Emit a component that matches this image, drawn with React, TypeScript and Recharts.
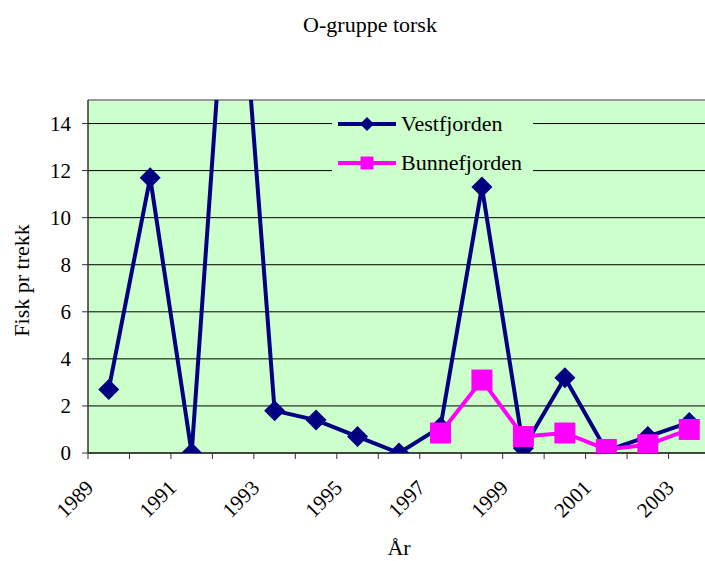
import React from "react"
import { LineChart, Line, XAxis, YAxis, CartesianGrid, Legend, ReferenceLine } from "recharts"

const years = [1989, 1990, 1991, 1992, 1993, 1994, 1995, 1996, 1997, 1998, 1999, 2000, 2001, 2002, 2003]
const vestfjorden = [2.7, 11.7, 0, 25, 1.8, 1.4, 0.7, 0, 1.1, 11.3, 0.2, 3.2, 0.1, 0.7, 1.3]
const bunnefjorden = [null, null, null, null, null, null, null, null, 0.85, 3.1, 0.7, 0.85, 0.15, 0.35, 1.0]
const seriesNames = ["Vestfjorden", "Bunnefjorden"]
const yTicks = [0, 2, 4, 6, 8, 10, 12, 14]
const labelYears = [1989, 1991, 1993, 1995, 1997, 1999, 2001, 2003]

// tick marks sit between the years, labels on every other year
const yearEdges = [...years.map((y) => y - 0.5), years[years.length - 1] + 0.5]
const xTicks = [...yearEdges, ...labelYears].sort((a, b) => a - b)

const data = years.map((year, i) => ({
  year,
  Vestfjorden: vestfjorden[i],
  Bunnefjorden: bunnefjorden[i],
}))

const serif = "'Liberation Serif', 'Times New Roman', serif"
const NAVY = "#000080"
const PINK = "#FF00FF"
const PLOT_BG = "#CCFFCC"
const AXIS = "#333333"

function Diamond({ cx, cy, r = 10.5, fill }: any) {
  if (cx == null || cy == null) return <g />
  return <polygon points={`${cx},${cy - r} ${cx + r},${cy} ${cx},${cy + r} ${cx - r},${cy}`} fill={fill} />
}

function Square({ cx, cy, r = 10.5, fill }: any) {
  if (cx == null || cy == null) return <g />
  return <rect x={cx - r} y={cy - r} width={r * 2} height={r * 2} fill={fill} />
}

function YearTick({ x, y, payload }: any) {
  const v = payload.value
  if (!Number.isInteger(v)) {
    return <line x1={x} y1={y} x2={x} y2={y + 6} stroke={AXIS} strokeWidth={1} />
  }
  return (
    <text
      transform={`translate(${x - 14},${y + 36}) rotate(-45)`}
      textAnchor="end"
      fontFamily={serif}
      fontSize={21}
      fill="#000"
    >
      {v}
    </text>
  )
}

function ValueTick({ x, y, payload }: any) {
  return (
    <text x={x} y={y} dy="0.35em" textAnchor="end" fontFamily={serif} fontSize={21} fill="#000">
      {payload.value}
    </text>
  )
}

function YTitle({ viewBox }: any) {
  const cx = 21
  const cy = viewBox.y + viewBox.height / 2 + 4
  return (
    <text
      x={cx}
      y={cy}
      transform={`rotate(-90 ${cx} ${cy})`}
      textAnchor="middle"
      dominantBaseline="central"
      fontFamily={serif}
      fontSize={22}
      fill="#000"
    >
      Fisk pr trekk
    </text>
  )
}

function LegendBox({ payload }: any) {
  const items = [...(payload || [])].sort(
    (a: any, b: any) => seriesNames.indexOf(a.value) - seriesNames.indexOf(b.value)
  )
  return (
    <div style={{ background: PLOT_BG, width: 201, height: 70, fontFamily: serif, fontSize: 22, color: "#000" }}>
      {items.map((p: any) => {
        const isDiamond = p.value === "Vestfjorden"
        return (
          <div key={p.value} style={{ display: "flex", alignItems: "center", height: 39 }}>
            <svg width={58} height={22} style={{ marginLeft: 6 }}>
              <line x1={0} y1={11} x2={58} y2={11} stroke={p.color} strokeWidth={4} />
              {isDiamond ? (
                <Diamond cx={29} cy={11} r={7} fill={p.color} />
              ) : (
                <Square cx={29} cy={11} r={6.5} fill={p.color} />
              )}
            </svg>
            <span style={{ marginLeft: 5, lineHeight: "22px" }}>{p.value}</span>
          </div>
        )
      })}
    </div>
  )
}

export default function App() {
  return (
    <div style={{ position: "absolute", left: 0, top: 0, width: 705, height: 561, background: "#fff" }}>
      <div
        style={{
          position: "absolute",
          left: 0,
          top: 14,
          width: 740,
          textAlign: "center",
          fontFamily: serif,
          fontSize: 22,
          lineHeight: "22px",
          color: "#000",
        }}
      >
        O-gruppe torsk
      </div>
      <LineChart width={705} height={561} data={data} margin={{ top: 100, right: -5, left: 0, bottom: 0 }}>
        <CartesianGrid vertical={false} stroke="#000" strokeWidth={1} fill={PLOT_BG} fillOpacity={1} />
        <ReferenceLine y={15} stroke="#999999" strokeWidth={2} />
        <XAxis
          dataKey="year"
          type="number"
          domain={[1988.5, 2003.5]}
          ticks={xTicks}
          interval={0}
          tick={<YearTick />}
          tickLine={false}
          tickSize={0}
          tickMargin={0}
          height={108}
          stroke={AXIS}
          axisLine={{ stroke: AXIS, strokeWidth: 1.5 }}
          label={{ value: "År", position: "insideBottom", offset: 6, fontFamily: serif, fontSize: 22, fill: "#000" }}
        />
        <YAxis
          type="number"
          domain={[0, 15]}
          allowDataOverflow
          ticks={yTicks}
          interval={0}
          width={88}
          tickSize={6}
          tickMargin={11}
          tickLine={{ stroke: AXIS }}
          axisLine={{ stroke: AXIS, strokeWidth: 1.5 }}
          tick={<ValueTick />}
          label={{ content: <YTitle /> }}
        />
        <Legend
          layout="vertical"
          align="center"
          verticalAlign="middle"
          wrapperStyle={{ left: 332, top: 104, width: 201 }}
          content={<LegendBox />}
        />
        <Line
          dataKey="Vestfjorden"
          stroke={NAVY}
          strokeWidth={4}
          dot={(p: any) => <Diamond key={`v-${p.index}`} cx={p.cx} cy={p.cy} fill={NAVY} />}
          activeDot={false}
          isAnimationActive={false}
        />
        <Line
          dataKey="Bunnefjorden"
          stroke={PINK}
          strokeWidth={4}
          dot={(p: any) => <Square key={`b-${p.index}`} cx={p.cx} cy={p.cy} fill={PINK} />}
          activeDot={false}
          connectNulls={false}
          isAnimationActive={false}
        />
      </LineChart>
    </div>
  )
}
